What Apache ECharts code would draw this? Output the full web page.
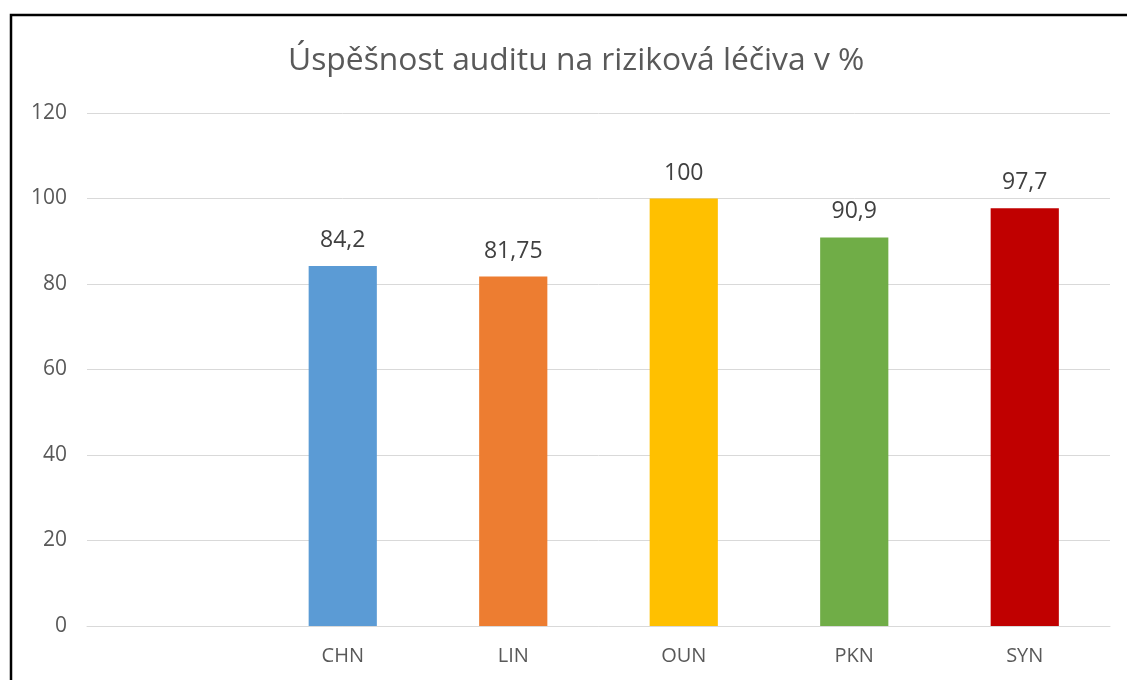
<!DOCTYPE html>
<html>
<head>
<meta charset="utf-8">
<script src="https://cdn.jsdelivr.net/npm/echarts@6/dist/echarts.min.js"></script>
<style>
  html, body { margin: 0; padding: 0; background: #fff; }
  #main { width: 1127px; height: 680px; }
</style>
</head>
<body>
<div id="main"></div>
<script>
// chart data
var categories = ['', 'CHN', 'LIN', 'OUN', 'PKN', 'SYN'];
var values = [null, 84.2, 81.75, 100, 90.9, 97.7];
var barColors = ['#5B9BD5', '#5B9BD5', '#ED7D31', '#FFC000', '#70AD47', '#C00000'];
var yTicks = { min: 0, max: 120, interval: 20 };

var myChart = echarts.init(document.getElementById('main'));
var font = '"Open Sans", "Noto Sans", sans-serif';

var option = {
  animation: false,
  title: {
    text: 'Úspěšnost auditu na riziková léčiva v %',
    left: 288,
    top: 45,
    padding: 0,
    textStyle: { color: '#595959', fontSize: 31.8, fontWeight: 'normal', fontFamily: font }
  },
  graphic: [{
    type: 'rect',
    shape: { x: 11, y: 15, width: 1200, height: 700 },
    style: { fill: 'none', stroke: '#000', lineWidth: 2.5 }
  }],
  grid: { left: 87, right: 17, top: 113, bottom: 54 },
  xAxis: {
    type: 'category',
    data: categories,
    axisLine: { lineStyle: { color: '#d9d9d9' } },
    axisTick: { show: false },
    axisLabel: { color: '#595959', fontSize: 20, fontFamily: font, margin: 20 }
  },
  yAxis: {
    type: 'value',
    min: yTicks.min,
    max: yTicks.max,
    interval: yTicks.interval,
    axisLine: { show: false },
    axisTick: { show: false },
    splitLine: { lineStyle: { color: '#d9d9d9' } },
    axisLabel: { color: '#595959', fontSize: 21, fontFamily: font, margin: 20 }
  },
  series: [{
    type: 'bar',
    barWidth: '40%',
    data: values.map(function (v, i) {
      return { value: v, itemStyle: { color: barColors[i] } };
    }),
    label: {
      show: true,
      position: 'top',
      distance: 14,
      color: '#404040',
      fontSize: 23,
      fontFamily: font,
      formatter: function (p) { return p.value == null ? '' : String(p.value).replace('.', ','); }
    }
  }]
};

myChart.setOption(option);
</script>
</body>
</html>
